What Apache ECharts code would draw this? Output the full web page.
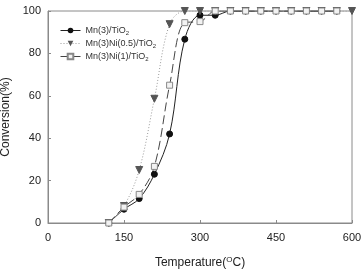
<!DOCTYPE html>
<html>
<head>
<meta charset="utf-8">
<script src="https://cdn.jsdelivr.net/npm/echarts@6/dist/echarts.min.js"></script>
<style>
  html, body { margin: 0; padding: 0; background: #fff; }
  #chart { width: 361px; height: 269px; }
</style>
</head>
<body>
<div id="chart"></div>
<script>
// 温度 (°C)
var temps = [120, 150, 180, 210, 240, 270, 300, 330, 360, 390, 420, 450, 480, 510, 540, 570, 600];
// 转化率 (%)
var mn3 = [0, 6.5, 11.5, 23, 42, 86.7, 98, 98, 100, 100, 100, 100, 100, 100, 100, 100, null];
var mn3ni05 = [0, 8, 25, 58.6, 93.8, 100, 100, 100, 100, 100, 100, 100, 100, 100, 100, 100, 100];
var mn3ni1 = [0, 7.5, 13.5, 26.7, 65, 94.5, 95, 100, 100, 100, 100, 100, 100, 100, 100, 100, null];
var xTicks = [0, 150, 300, 450, 600];
var yTicks = [0, 20, 40, 60, 80, 100];

var names = ["Mn(3)/TiO2", "Mn(3)Ni(0.5)/TiO2", "Mn(3)Ni(1)/TiO2"];
var font = "Liberation Sans, Arial, sans-serif";

function pairs(arr) {
  var out = [];
  for (var i = 0; i < temps.length; i++) {
    if (arr[i] !== null) out.push([temps[i], arr[i]]);
  }
  return out;
}

var myChart = echarts.init(document.getElementById("chart"));
var option = {
  animation: false,
  textStyle: { fontFamily: font },
  grid: {
    left: 48, right: 9, top: 11, bottom: 46,
    containLabel: false,
    outerBoundsMode: "none",
    show: true, borderColor: "#8a8a8a", borderWidth: 1
  },
  legend: {
    orient: "vertical",
    left: 55, top: 21,
    itemWidth: 20, itemHeight: 7, itemGap: 3,
    data: names,
    lineStyle: { width: 1 },
    formatter: function (n) {
      return "{a|" + n.slice(0, -1) + "}{s|2}";
    },
    textStyle: {
      rich: {
        a: { fontSize: 9, color: "#333", lineHeight: 11, verticalAlign: "middle", fontFamily: font },
        s: { fontSize: 6, color: "#333", lineHeight: 5, verticalAlign: "bottom", fontFamily: font }
      }
    }
  },
  xAxis: {
    type: "value",
    min: 0, max: 600, interval: 150,
    name: "{a|Temperature(}{s|O}{a|C)}",
    nameLocation: "middle",
    nameGap: 33,
    nameTextStyle: {
      rich: {
        a: { fontSize: 12, color: "#222", lineHeight: 14, verticalAlign: "middle", fontFamily: font },
        s: { fontSize: 8, color: "#222", lineHeight: 6, verticalAlign: "top", fontFamily: font }
      }
    },
    axisLine: { lineStyle: { color: "#8a8a8a" } },
    axisTick: { inside: true, length: 3, lineStyle: { color: "#8a8a8a" } },
    axisLabel: { fontSize: 11, color: "#222", margin: 9 },
    splitLine: { show: false }
  },
  yAxis: {
    type: "value",
    min: 0, max: 100, interval: 20,
    name: "Conversion(%)",
    nameLocation: "middle",
    nameGap: 32,
    nameTextStyle: { fontSize: 12, color: "#222" },
    axisLine: { show: true, lineStyle: { color: "#8a8a8a" } },
    axisTick: { show: true, inside: true, length: 3, lineStyle: { color: "#8a8a8a" } },
    axisLabel: { fontSize: 11, color: "#222", margin: 7 },
    splitLine: { show: false }
  },
  series: [
    {
      name: names[0],
      type: "line",
      smooth: 0.35,
      data: pairs(mn3),
      symbol: "circle",
      symbolSize: 6,
      itemStyle: { color: "#111", borderColor: "#111" },
      lineStyle: { color: "#222", width: 1 }
    },
    {
      name: names[1],
      type: "line",
      smooth: 0.35,
      data: pairs(mn3ni05),
      symbol: "triangle",
      symbolRotate: 180,
      symbolSize: 7,
      itemStyle: { color: "#555", borderColor: "#555" },
      lineStyle: { color: "#999", width: 1, type: [1, 2] }
    },
    {
      name: names[2],
      type: "line",
      smooth: 0.35,
      data: pairs(mn3ni1),
      symbol: "rect",
      symbolSize: 6,
      itemStyle: { color: "#f2f2f2", borderColor: "#888", borderWidth: 1 },
      lineStyle: { color: "#444", width: 1, type: [9, 4] }
    }
  ]
};
// 绘制图表
myChart.setOption(option);
</script>
</body>
</html>
